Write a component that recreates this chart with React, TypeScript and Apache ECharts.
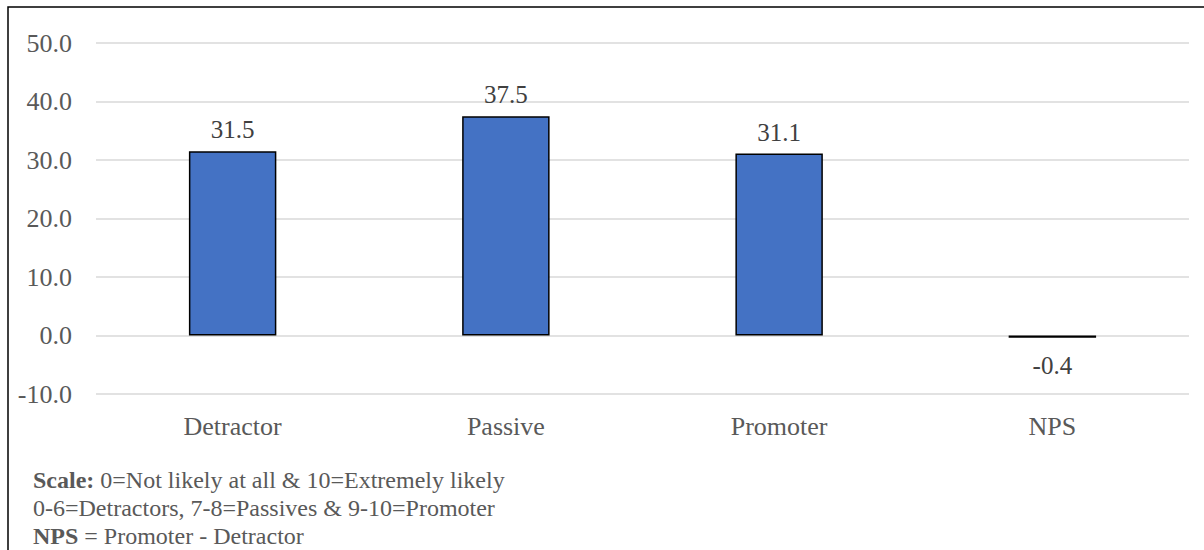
import React, { useEffect, useRef } from "react";
import * as echarts from "echarts";

const categories = ["Detractor", "Passive", "Promoter", "NPS"];
const values = [31.5, 37.5, 31.1, -0.4];
const yMin = -10;
const yMax = 50;
const yInterval = 10;
const footnotes = [
  ["Scale:", " 0=Not likely at all & 10=Extremely likely"],
  ["", "0-6=Detractors, 7-8=Passives & 9-10=Promoter"],
  ["NPS", " = Promoter - Detractor"],
];

const FONT = "Liberation Serif";

export default function App() {
  const ref = useRef<HTMLDivElement>(null);
  useEffect(() => {
    if (!ref.current) return;
    const chart = echarts.init(ref.current, undefined, { renderer: "svg" });
    const data = values.map((v) => ({
      value: v,
      label: { position: v < 0 ? "bottom" : "top", distance: v < 0 ? 15 : 9 },
    }));
    chart.setOption({
      animation: false,
      backgroundColor: "#ffffff",
      grid: { left: 96, right: 15, top: 43, bottom: 156 },
      xAxis: {
        type: "category",
        data: categories,
        axisLine: { show: false, onZero: false },
        axisTick: { show: false },
        axisLabel: {
          color: "#595959",
          fontFamily: FONT,
          fontSize: 26,
          margin: 19,
        },
      },
      yAxis: {
        type: "value",
        min: yMin,
        max: yMax,
        interval: yInterval,
        axisLine: { show: false },
        axisTick: { show: false },
        axisLabel: {
          color: "#595959",
          fontFamily: FONT,
          fontSize: 26,
          margin: 24,
          formatter: (v: number) => v.toFixed(1),
        },
        splitLine: { lineStyle: { color: "#d9d9d9", width: 1.5 } },
      },
      series: [
        {
          type: "bar",
          data,
          barWidth: "32%",
          itemStyle: { color: "#4472C4", borderColor: "#000000", borderWidth: 1.5 },
          label: {
            show: true,
            color: "#404040",
            fontFamily: FONT,
            fontSize: 25,
            formatter: (p: any) => Number(p.value).toFixed(1),
          },
        },
      ],
      graphic: [
        {
          type: "rect",
          shape: { x: 8, y: 7, width: 1400, height: 800 },
          style: { fill: "none", stroke: "#000000", lineWidth: 1.5 },
          silent: true,
        },
        ...footnotes.map((f, i) => ({
          type: "text",
          left: 33,
          top: 468 + i * 28,
          style: {
            text: (f[0] ? "{b|" + f[0] + "}" : "") + "{n|" + f[1] + "}",
            rich: {
              b: { fontFamily: FONT, fontSize: 24, fontWeight: "bold", fill: "#595959" },
              n: { fontFamily: FONT, fontSize: 24, fill: "#595959" },
            },
          },
        })),
      ],
    });
    return () => chart.dispose();
  }, []);
  return (
    <div
      ref={ref}
      style={{ position: "absolute", left: 0, top: 0, width: 1204, height: 550 }}
    />
  );
}
